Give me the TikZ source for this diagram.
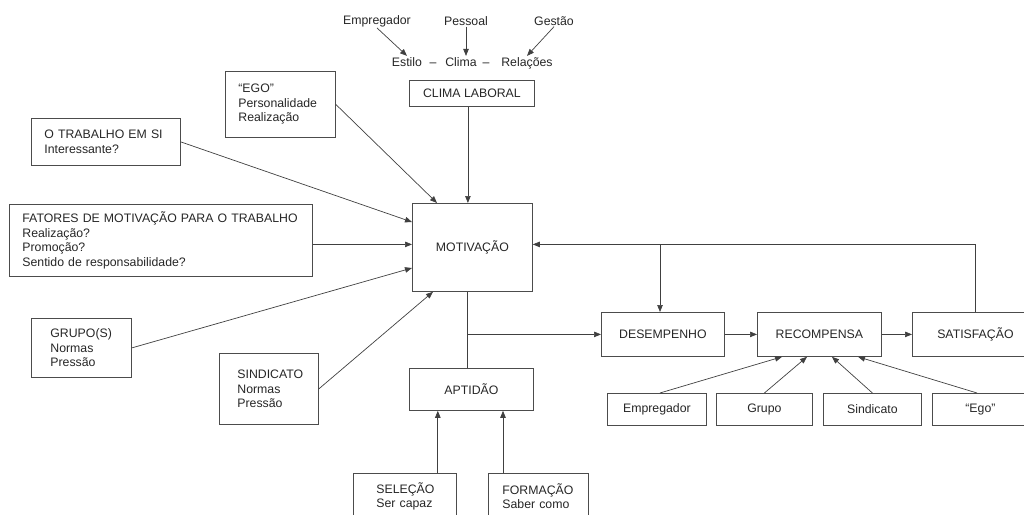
\documentclass[tikz,border=0pt]{standalone}
\usepackage{fontspec}
\setmainfont{Liberation Sans}
\usetikzlibrary{arrows.meta,calc}
\begin{document}
\begin{tikzpicture}[x=1pt,y=-1pt,
  every node/.style={font=\fontsize{12.3}{14.5}\selectfont, text=black!85},
  ln/.style={draw=black!75, line width=0.7pt},
  arr/.style={ln, -{Triangle[length=7pt,width=5.5pt]}},
  bx/.style={draw=black!70, line width=0.8pt, anchor=north west, inner ysep=0pt},
  lbox/.style={bx, align=left},
  cbox/.style={bx, align=center, inner xsep=0pt},
  lbl/.style={inner sep=1pt},
  blbl/.style={inner sep=1pt, anchor=base}]
\useasboundingbox (0,0) rectangle (1024,514);
\clip (0,0) rectangle (1024,514);

% top labels
\node[lbl] (temp) at (377,21) {Empregador};
\node[lbl] (tpes) at (466,21) {Pessoal};
\node[lbl] (tges) at (554,21) {Gestão};
\node[blbl] (estilo) at (407,66) {Estilo};
\node[blbl] (cl) at (461,66) {Clima};
\node[blbl] (rel) at (527,66) {Relações};
\node[blbl] (d1) at (433,66) {–};
\node[blbl] (d2) at (486,66) {–};

% boxes
\node[cbox, minimum width=125pt, minimum height=26pt] (clima) at (409,80) {CLIMA LABORAL};
\node[lbox, text width=84pt, inner xsep=13pt, minimum height=66pt] (ego) at (225,71) {“EGO”\\Personalidade\\Realização};
\node[lbox, text width=123pt, inner xsep=13pt, minimum height=47pt] (trab) at (31,118) {O TRABALHO EM SI\\Interessante?};
\node[lbox, text width=277pt, inner xsep=13pt, minimum height=72pt] (fat) at (9,204) {\mbox{FATORES DE MOTIVAÇÃO PARA O TRABALHO}\\Realização?\\Promoção?\\Sentido de responsabilidade?};
\node[lbox, text width=62pt, inner xsep=19pt, minimum height=59pt] (grupo) at (31,318) {\mbox{GRUPO(S)}\\Normas\\Pressão};
\node[lbox, text width=63pt, inner xsep=18pt, minimum height=71pt] (sind) at (219,353) {\mbox{SINDICATO}\\Normas\\Pressão};
\node[cbox, minimum width=120pt, minimum height=88pt] (mot) at (412,203) {MOTIVAÇÃO};
\node[cbox, minimum width=124pt, minimum height=42pt] (apt) at (409,368) {APTIDÃO};
\node[lbox, text width=57pt, inner xsep=23pt, minimum height=46pt] (sel) at (353,473) {\mbox{SELEÇÃO}\\Ser capaz};
\node[lbox, text width=72pt, inner xsep=14pt, minimum height=46pt] (form) at (488,473) {\mbox{FORMAÇÃO}\\Saber como};
\node[cbox, minimum width=123pt, minimum height=44pt] (des) at (601,312) {DESEMPENHO};
\node[cbox, minimum width=124pt, minimum height=44pt] (rec) at (757,312) {RECOMPENSA};
\node[cbox, minimum width=126pt, minimum height=44pt] (sat) at (912,312) {SATISFAÇÃO};
\node[cbox, minimum width=99pt, minimum height=32pt] (b1) at (607,393) {Empregador};
\node[cbox, minimum width=96pt, minimum height=32pt] (b2) at (716,393) {Grupo};
\node[cbox, minimum width=98pt, minimum height=32pt] (b3) at (823,393) {Sindicato};
\node[cbox, minimum width=96pt, minimum height=32pt] (b4) at (932,393) {“Ego”};

% top arrows
\draw[arr] (temp.south) -- (estilo.north);
\draw[arr] (tpes.south) -- (tpes.south |- cl.north);
\draw[arr] (tges.south) -- (rel.north);

% into motivation
\coordinate (c1) at ($(clima.south)+(-4,0)$);
\draw[arr] (c1) -- (c1 |- mot.north);
\draw[arr] (ego.east) -- ($(mot.north west)+(25,0)$);
\draw[arr] (trab.east) -- ($(mot.north west)+(0,19)$);
\coordinate (m1) at ($(mot.west)+(0,-3)$);
\draw[arr] (fat.east |- m1) -- (m1);
\draw[arr] (grupo.east) -- ($(mot.north west)+(0,65)$);
\draw[arr] (sind.east) -- ($(mot.south west)+(21,0)$);

% motivation down
\coordinate (v1) at ($(mot.south)+(-5,0)$);
\draw[ln] (v1) -- (v1 |- apt.north);
\draw[arr] (v1 |- des.west) -- (des.west);
\coordinate (s1) at ($(sel.north east)+(-19,0)$);
\draw[arr] (s1) -- (s1 |- apt.south);
\coordinate (f1) at ($(form.north west)+(15,0)$);
\draw[arr] (f1) -- (f1 |- apt.south);

% chain
\draw[arr] (des.east) -- (rec.west);
\draw[arr] (rec.east) -- (sat.west);
\coordinate (m2) at ($(mot.east)+(0,-3)$);
\coordinate (st) at ($(sat.north west)+(63,0)$);
\draw[arr] (st) -- (st |- m2) -- (m2);
\coordinate (dt) at ($(des.north west)+(59,0)$);
\draw[arr] (dt |- m2) -- (dt);

% rewards
\draw[arr] ($(b1.north)+(3,0)$) -- ($(rec.south west)+(25,0)$);
\draw[arr] (b2.north) -- ($(rec.south west)+(50,0)$);
\draw[arr] (b3.north) -- ($(rec.south west)+(75,0)$);
\draw[arr] ($(b4.north west)+(45,0)$) -- ($(rec.south west)+(101,0)$);
\end{tikzpicture}
\end{document}
